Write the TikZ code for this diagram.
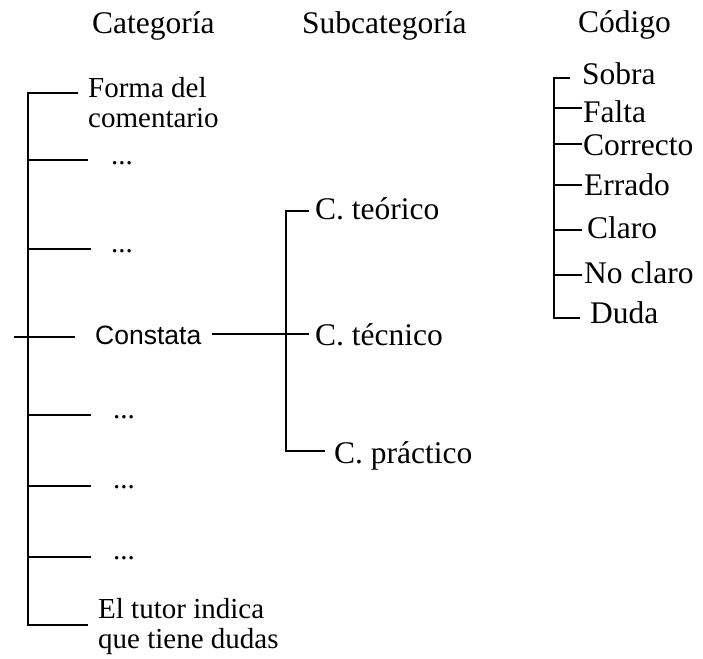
\documentclass[tikz,border=0pt]{standalone}
\usepackage{fontspec}
\setmainfont{Liberation Serif}
\newfontfamily\sansf{Liberation Sans}
\begin{document}
\begin{tikzpicture}[x=1pt,y=-1pt,
  lbl/.style={anchor=base west, inner sep=0pt, align=left, font=\fontsize{29}{29.5}\selectfont},
  sub/.style={anchor=base west, inner sep=0pt, font=\fontsize{31.5}{31.5}\selectfont},
  ttl/.style={anchor=base west, inner sep=0pt, font=\fontsize{31.5}{31.5}\selectfont},
  conn/.style={draw, line width=2pt}]
\useasboundingbox (0,0) rectangle (703,658);
% titles
\node[ttl] (tcat) at (92,34) {Categoría};
\node[ttl] (tsub) at (302,34) {Subcategoría};
\node[ttl] (tcod) at (578,33) {Código};
% category column
\node[lbl] (forma) at (88,127) {Forma del\\comentario};
\node[lbl] (d1) at (111,164) {...};
\node[lbl] (d2) at (111,252) {...};
\node[lbl, anchor=base west, font=\sansf\fontsize{26.5}{26.5}\selectfont] (cons) at (95,344) {Constata};
\node[lbl] (d3) at (113,418) {...};
\node[lbl] (d4) at (113,488) {...};
\node[lbl] (d5) at (113,559) {...};
\node[lbl] (tutor) at (98,648) {El tutor indica\\que tiene dudas};
\coordinate (ctop) at (28,93);
\coordinate (cbot) at (28,625);
\coordinate (e0) at (78,93);
\coordinate (e7) at (88,625);
\draw[conn] (e0) -- (ctop) -- (cbot) -- (e7);
\coordinate (b1) at (28,160); \coordinate (e1) at (88,160);
\coordinate (b2) at (28,249); \coordinate (e2) at (91,249);
\coordinate (b3) at (14,337); \coordinate (e3) at (75,337);
\coordinate (b4) at (28,415); \coordinate (e4) at (91,415);
\coordinate (b5) at (28,486); \coordinate (e5) at (91,486);
\coordinate (b6) at (28,557); \coordinate (e6) at (91,557);
\draw[conn] (b1) -- (e1);
\draw[conn] (b2) -- (e2);
\draw[conn] (b3) -- (e3);
\draw[conn] (b4) -- (e4);
\draw[conn] (b5) -- (e5);
\draw[conn] (b6) -- (e6);
% subcategory column
\node[sub] (teo) at (315,219) {C. teórico};
\node[sub] (tec) at (315,345) {C. técnico};
\node[sub] (pra) at (334,463) {C. práctico};
\coordinate (stop) at (286,211);
\coordinate (sbot) at (286,451);
\coordinate (steo) at (309,211);
\coordinate (spra) at (325,451);
\coordinate (scs) at (212,334);
\coordinate (stec) at (309,334);
\draw[conn] (steo) -- (stop) -- (sbot) -- (spra);
\draw[conn] (scs) -- (stec);
% code column
\node[sub] (sobra) at (582,85) {Sobra};
\node[sub] (falta) at (583,122) {Falta};
\node[sub] (corr) at (583,155) {Correcto};
\node[sub] (erra) at (584,195) {Errado};
\node[sub] (claro) at (587,238) {Claro};
\node[sub] (noc) at (584,283) {No claro};
\node[sub] (duda) at (590,323) {Duda};
\coordinate (ktop) at (554,78);
\coordinate (kbot) at (554,318);
\coordinate (ks) at (570,78);
\coordinate (kd) at (580,318);
\draw[conn] (ks) -- (ktop) -- (kbot) -- (kd);
\foreach \y/\n in {108/f,144/c,185/e,230/l,275/n}{
  \coordinate (ka\n) at (554,\y);
  \coordinate (kb\n) at (582,\y);
  \draw[conn] (ka\n) -- (kb\n);
}
\end{tikzpicture}
\end{document}
